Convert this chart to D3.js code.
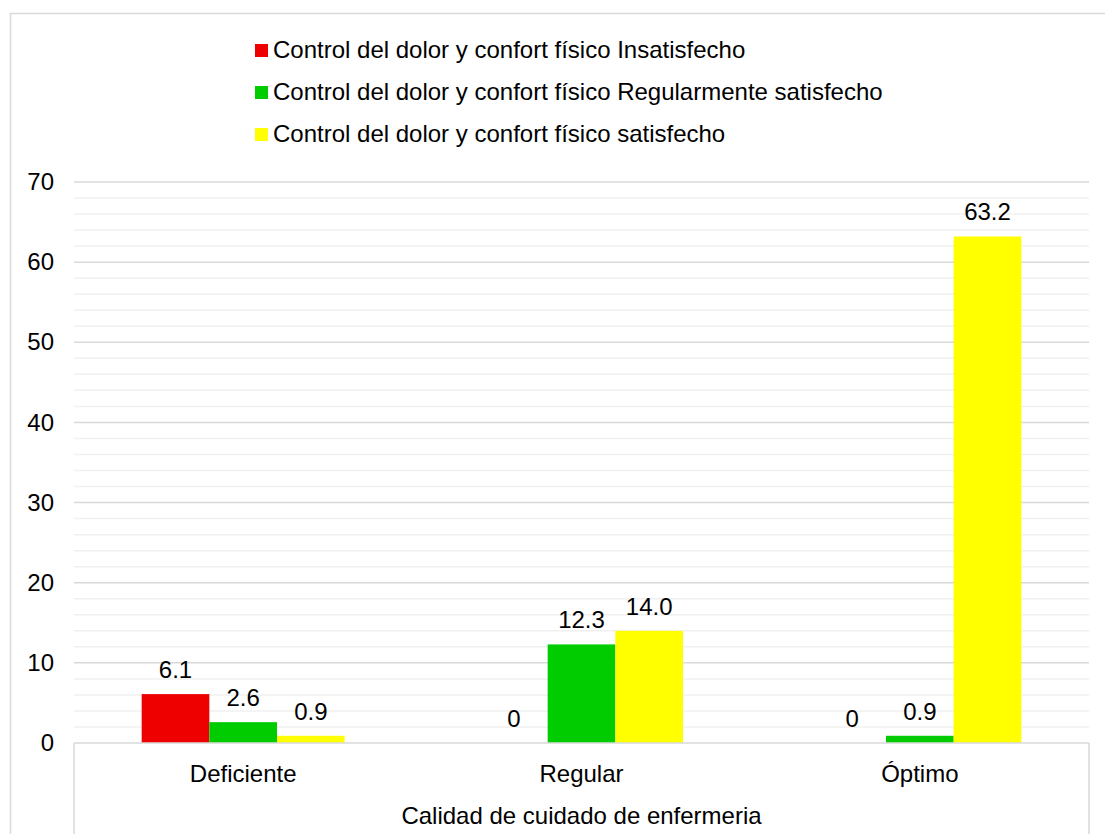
<!DOCTYPE html>
<html lang="es">
<head>
    <meta charset="UTF-8">
    <script src="https://d3js.org/d3.v7.min.js"></script>
    <title>Calidad de cuidado</title>
    <style>
        body { margin: 0; background: #fff; }
        text { font-family: "Liberation Sans", Arial, sans-serif; fill: #000; }
    </style>
</head>
<body>
<div id="chart"></div>
<script>
    // data
    var categories = ["Deficiente", "Regular", "Óptimo"];
    var seriesNames = [
        "Control del dolor y confort físico Insatisfecho",
        "Control del dolor y confort físico Regularmente satisfecho",
        "Control del dolor y confort físico satisfecho"
    ];
    var insatisfecho = [6.1, 0, 0];
    var regularmente = [2.6, 12.3, 0.9];
    var satisfecho = [0.9, 14.0, 63.2];
    var labelsText = [["6.1", "0", "0"], ["2.6", "12.3", "0.9"], ["0.9", "14.0", "63.2"]];
    var yTicks = [0, 10, 20, 30, 40, 50, 60, 70];
    var colors = ["#ee0000", "#00cc00", "#ffff00"];

    var seriesValues = [insatisfecho, regularmente, satisfecho];

    var canvasWidth = 1105, canvasHeight = 834;
    var svg = d3.select("#chart").append("svg")
        .attr("width", canvasWidth)
        .attr("height", canvasHeight);

    // outer chart border
    svg.append("rect")
        .attr("x", 10.5).attr("y", 13.5)
        .attr("width", 1110).attr("height", 840)
        .attr("fill", "none").attr("stroke", "#d9d9d9").attr("stroke-width", 1.5);

    var plotLeft = 74, plotRight = 1089, plotTop = 182, plotBottom = 743;

    var x0 = d3.scaleBand().domain(categories).range([plotLeft, plotRight]);
    var x1 = d3.scaleBand().domain([0, 1, 2])
        .range([0, x0.bandwidth()]).paddingOuter(1).paddingInner(0);
    var y = d3.scaleLinear().domain([0, 70]).range([plotBottom, plotTop]);

    // minor gridlines
    svg.append("g").selectAll("line")
        .data(d3.range(0, 71, 2).filter(function(d){ return d % 10 !== 0; }))
        .enter().append("line")
        .attr("x1", plotLeft).attr("x2", plotRight)
        .attr("y1", function(d){ return y(d); })
        .attr("y2", function(d){ return y(d); })
        .attr("stroke", "#f0f0f0").attr("stroke-width", 1.5);

    // major gridlines
    svg.append("g").selectAll("line")
        .data(yTicks.filter(function(d){ return d > 0; }))
        .enter().append("line")
        .attr("x1", plotLeft).attr("x2", plotRight)
        .attr("y1", function(d){ return y(d); })
        .attr("y2", function(d){ return y(d); })
        .attr("stroke", "#d9d9d9").attr("stroke-width", 1.5);

    // y axis labels
    var yAxis = svg.append("g")
        .attr("transform", "translate(" + (plotLeft - 20) + ",0)")
        .call(d3.axisLeft(y).tickValues(yTicks).tickSize(0).tickPadding(0));
    yAxis.select(".domain").remove();
    yAxis.selectAll("text")
        .attr("font-size", "24px")
        .attr("fill", "#000")
        .style("font-family", "'Liberation Sans', Arial, sans-serif");

    // bars
    var groups = svg.append("g").selectAll("g")
        .data(categories).enter().append("g")
        .attr("transform", function(d){ return "translate(" + x0(d) + ",0)"; });

    groups.selectAll("rect")
        .data(function(d, i){ return seriesValues.map(function(s, k){ return {k: k, v: s[i]}; }); })
        .enter().append("rect")
        .attr("x", function(d){ return x1(d.k); })
        .attr("y", function(d){ return y(d.v); })
        .attr("width", x1.bandwidth())
        .attr("height", function(d){ return y(0) - y(d.v); })
        .attr("fill", function(d){ return colors[d.k]; });

    groups.selectAll("text.lbl")
        .data(function(d, i){ return seriesValues.map(function(s, k){ return {k: k, v: s[i], t: labelsText[k][i]}; }); })
        .enter().append("text").attr("class", "lbl")
        .attr("x", function(d){ return x1(d.k) + x1.bandwidth() / 2; })
        .attr("y", function(d){ return y(d.v) - 16; })
        .attr("text-anchor", "middle")
        .attr("font-size", "24px")
        .text(function(d){ return d.t; });

    // category axis box
    svg.append("line").attr("x1", plotLeft).attr("x2", plotRight)
        .attr("y1", plotBottom).attr("y2", plotBottom)
        .attr("stroke", "#d9d9d9").attr("stroke-width", 1.5);
    svg.append("line").attr("x1", plotLeft).attr("x2", plotLeft)
        .attr("y1", plotBottom).attr("y2", canvasHeight)
        .attr("stroke", "#d9d9d9").attr("stroke-width", 1.5);
    svg.append("line").attr("x1", plotRight).attr("x2", plotRight)
        .attr("y1", plotBottom).attr("y2", canvasHeight)
        .attr("stroke", "#d9d9d9").attr("stroke-width", 1.5);

    svg.append("g").selectAll("text")
        .data(categories).enter().append("text")
        .attr("x", function(d){ return x0(d) + x0.bandwidth() / 2; })
        .attr("y", 782)
        .attr("text-anchor", "middle")
        .attr("font-size", "24px")
        .text(function(d){ return d; });

    svg.append("text")
        .attr("x", (plotLeft + plotRight) / 2)
        .attr("y", 824)
        .attr("text-anchor", "middle")
        .attr("font-size", "24px")
        .text("Calidad de cuidado de enfermeria");

    // legend
    var legend = svg.append("g").selectAll("g")
        .data(seriesNames).enter().append("g")
        .attr("transform", function(d, i){ return "translate(255," + (50 + i * 42) + ")"; });
    legend.append("rect")
        .attr("x", 0).attr("y", -6)
        .attr("width", 13).attr("height", 13)
        .attr("fill", function(d, i){ return colors[i]; });
    legend.append("text")
        .attr("x", 18).attr("y", 0)
        .attr("dy", "0.35em")
        .attr("font-size", "24px")
        .text(function(d){ return d; });
</script>
</body>
</html>
